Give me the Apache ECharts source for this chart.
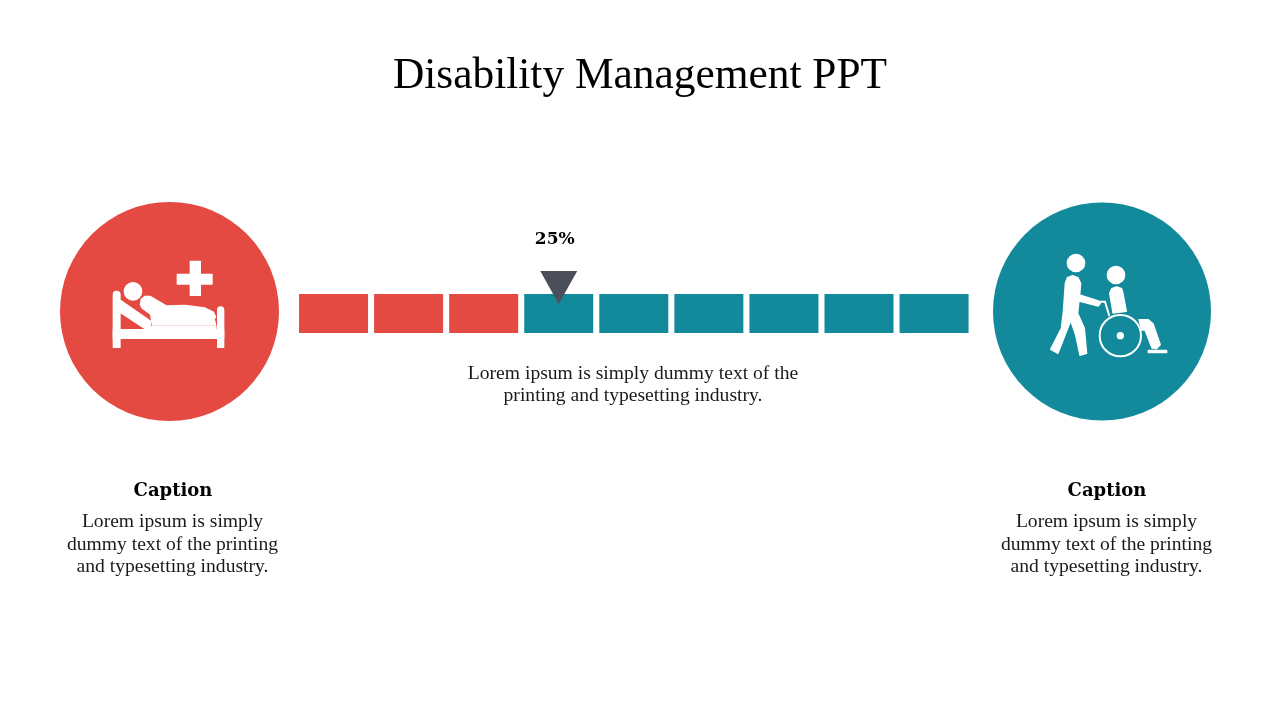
<!DOCTYPE html>
<html>
<head>
<meta charset="utf-8">
<title>Disability Management PPT</title>
<script src="https://cdn.jsdelivr.net/npm/echarts@6/dist/echarts.min.js"></script>
<style>
html, body { margin: 0; padding: 0; background: #fff; }
#main { width: 1280px; height: 720px; }
</style>
</head>
<body>
<div id="main"></div>
<script>
var titleText = 'Disability Management PPT';
var segments = ['1', '2', '3', '4', '5', '6', '7', '8', '9'];
var segmentValues = [1, 1, 1, 1, 1, 1, 1, 1, 1];
var redCount = 3;
var pointerSegment = '4';
var pointerLabel = '25%';
var middleText = 'Lorem ipsum is simply dummy text of the\nprinting and typesetting industry.';
var captionTitle = 'Caption';
var captionText = 'Lorem ipsum is simply\ndummy text of the printing\nand typesetting industry.';

var red = '#e44a42';
var teal = '#128a9c';
var fontName = '"Liberation Serif", serif';
var boldFont = '"DejaVu Serif", serif';

function bodyText(x, y, text) {
    return {
        type: 'text', x: x, y: y, silent: true,
        style: { text: text, fill: '#1a1a1a', font: '19.6px ' + fontName, textAlign: 'center', textVerticalAlign: 'middle', lineHeight: 22.5 }
    };
}
function boldText(x, y, text) {
    return {
        type: 'text', x: x, y: y, silent: true,
        style: { text: text, fill: '#000', font: 'bold 18px ' + boldFont, textAlign: 'center', textVerticalAlign: 'middle' }
    };
}
function white(type, shape) {
    return { type: type, shape: shape, style: { fill: '#fff', stroke: '#fff', lineWidth: 4, lineJoin: 'round' }, silent: true };
}

// icons are traced at 3x, so each group is scaled back down
var bedIcon = {
    type: 'group', x: 105, y: 255, scaleX: 1 / 3, scaleY: 1 / 3,
    children: [
        white('rect', { x: 25, y: 109, width: 20, height: 168, r: [10, 10, 0, 0] }),
        white('rect', { x: 338, y: 156, width: 18, height: 121, r: [9, 9, 0, 0] }),
        white('rect', { x: 25, y: 224, width: 331, height: 26 }),
        white('circle', { cx: 84, cy: 109, r: 26 }),
        white('rect', { x: 217, y: 58, width: 104, height: 29 }),
        white('rect', { x: 256, y: 19, width: 30, height: 102 }),
        white('polygon', { points: [[46, 136], [136, 198], [136, 214], [333, 214], [333, 224], [125, 224], [46, 172]] }),
        white('polygon', { points: [[106, 148], [109, 133], [120, 124], [135, 124], [185, 153], [240, 151], [300, 159], [325, 171], [332, 187], [327, 190], [332, 210], [142, 210], [137, 178], [112, 160]] })
    ]
};
var chairIcon = {
    type: 'group', x: 1040, y: 250, scaleX: 1 / 3, scaleY: 1 / 3,
    children: [
        white('circle', { cx: 108, cy: 39, r: 26 }),
        white('polygon', { points: [[76, 100], [82, 83], [98, 77], [114, 83], [122, 100], [119, 135], [175, 153], [181, 160], [175, 168], [117, 153], [113, 190], [133, 235], [140, 310], [120, 316], [107, 255], [92, 212], [54, 310], [32, 298], [64, 235], [70, 185]] }),
        { type: 'polyline', shape: { points: [[175, 155], [195, 155], [208, 198]] }, style: { stroke: '#fff', lineWidth: 6, fill: null }, silent: true },
        white('circle', { cx: 228, cy: 75, r: 26 }),
        white('polygon', { points: [[209, 130], [215, 116], [230, 111], [245, 116], [249, 130], [259, 184], [219, 189]] }),
        white('polygon', { points: [[297, 209], [325, 209], [339, 221], [361, 284], [350, 296], [336, 294], [315, 240], [305, 240]] }),
        { type: 'circle', shape: { cx: 241, cy: 257, r: 62 }, style: { stroke: '#fff', lineWidth: 6, fill: teal }, silent: true },
        white('circle', { cx: 241, cy: 257, r: 9 }),
        white('rect', { x: 325, y: 301, width: 55, height: 7 })
    ]
};

var myChart = echarts.init(document.getElementById('main'));
var option = {
    animation: false,
    backgroundColor: '#fff',
    title: {
        text: titleText,
        left: 'center',
        top: 50,
        textStyle: { fontFamily: fontName, fontWeight: 'normal', fontSize: 43.4, color: '#000' }
    },
    grid: { left: 296, top: 255, width: 675.6, height: 78 },
    xAxis: { type: 'category', data: segments, show: false },
    yAxis: { type: 'value', min: 0, max: 2, show: false },
    series: [{
        type: 'bar',
        barWidth: 69,
        silent: true,
        data: segmentValues.map(function(v, i) {
            return { value: v, itemStyle: { color: i < redCount ? red : teal } };
        }),
        markPoint: {
            silent: true,
            data: [{
                coord: [pointerSegment, 1.167],
                symbol: 'triangle',
                symbolRotate: 180,
                symbolSize: [37, 33],
                itemStyle: { color: '#4b4f59' },
                label: {
                    show: true, position: 'top', distance: 23, offset: [-4, 0], formatter: pointerLabel,
                    color: '#000', fontFamily: boldFont, fontWeight: 'bold', fontSize: 17
                }
            }]
        }
    }],
    graphic: [
        { type: 'circle', shape: { cx: 169.5, cy: 311.5, r: 109.5 }, style: { fill: red }, silent: true },
        { type: 'circle', shape: { cx: 1102, cy: 311.5, r: 109 }, style: { fill: teal }, silent: true },
        bedIcon,
        chairIcon,
        bodyText(633, 385, middleText),
        boldText(173, 491, captionTitle),
        bodyText(172.5, 544.5, captionText),
        boldText(1107, 491, captionTitle),
        bodyText(1106.5, 544.5, captionText)
    ]
};
myChart.setOption(option);
</script>
</body>
</html>
